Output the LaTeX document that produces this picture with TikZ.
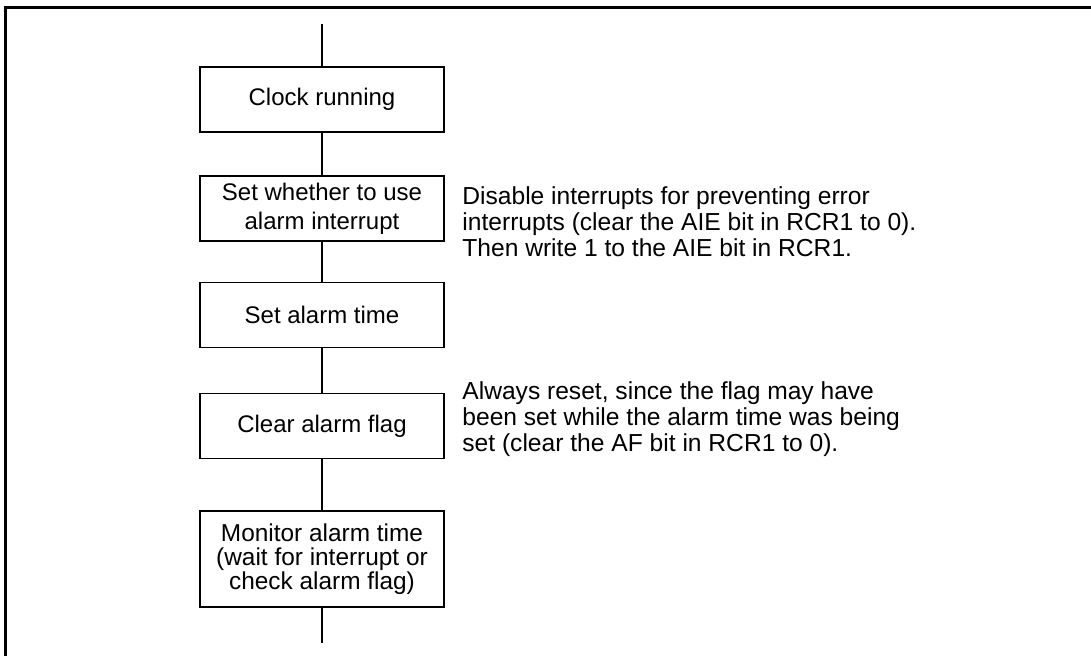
\documentclass[tikz,border=0pt]{standalone}
\usepackage{fontspec}
\setmainfont{Liberation Sans}
\usetikzlibrary{positioning}

\begin{document}
\begin{tikzpicture}[x=0.5pt,y=-0.5pt,
    procbox/.style={draw,line width=0.7pt,minimum width=122pt,minimum height=32.5pt,
      align=center,inner sep=0pt,font=\fontsize{12}{12.5}\selectfont},
    note/.style={anchor=west,align=left,inner sep=0pt,font=\fontsize{12.3}{13}\selectfont}]
  \useasboundingbox (0,0) rectangle (1091,655);
  % frame
  \draw[line width=1.4pt] (5.5,670) -- (5.5,7.5) -- (1100,7.5);
  % flow
  \node[procbox] (clock) at (322,99.5) {Clock running};
  \node[procbox,font=\fontsize{12}{14.5}\selectfont] (useint) at (322,208.5)
    {Set whether to use\\alarm interrupt};
  \node[procbox] (settime) at (322,315) {Set alarm time};
  \node[procbox] (clrflag) at (322,426) {Clear alarm flag};
  \node[procbox,minimum height=48pt,font=\fontsize{12.2}{11.9}\selectfont] (monitor) at (322,559)
    {Monitor alarm time\\(wait for interrupt or\\check alarm flag)};
  \coordinate (start) at (322,24);
  \coordinate (finish) at (322,643);
  \draw[line width=0.7pt] (start) -- (clock) -- (useint) -- (settime)
    -- (clrflag) -- (monitor) -- (finish);
  % notes
  \node[note] (useintnote) at (462,222)
    {Disable interrupts for preventing error\\interrupts (clear the AIE bit in RCR1 to 0).\\Then write 1 to the AIE bit in RCR1.};
  \node[note] (clrflagnote) at (462,419)
    {Always reset, since the flag may have\\been set while the alarm time was being\\set (clear the AF bit in RCR1 to 0).};
\end{tikzpicture}
\end{document}
